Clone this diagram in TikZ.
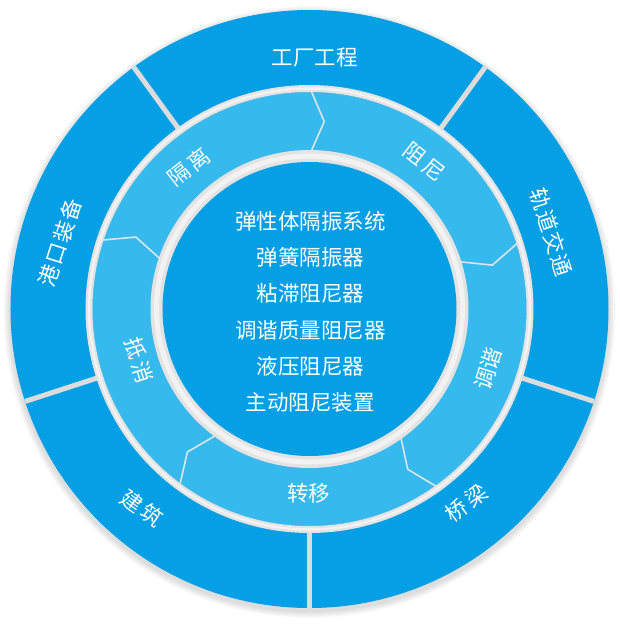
\documentclass[tikz,border=0pt]{standalone}
\usepackage{fontspec}
\newfontfamily\cjk{Noto Sans CJK SC}
\newfontfamily\cjkw{Noto Sans CJK SC}[LetterSpace=15]
\newfontfamily\cjkm{Noto Sans CJK SC}[LetterSpace=8]
\definecolor{darkb}{HTML}{049FE5}
\definecolor{lightb}{HTML}{36B9EC}
\definecolor{ringg}{HTML}{E3E3E3}
\definecolor{ringw}{HTML}{F2F2F2}
\definecolor{divg}{HTML}{DCDCDC}
\definecolor{sepg}{HTML}{DCE5EA}
\begin{document}
\begin{tikzpicture}[x=1pt,y=1pt,
  lab/.style={text=white,font=\cjk\fontsize{21.5}{22}\selectfont,inner sep=0pt},
  wlab/.style={text=white,font=\cjkw\fontsize{21.5}{22}\selectfont,inner sep=0pt},
  mlab/.style={text=white,font=\cjkm\fontsize{21.5}{22}\selectfont,inner sep=0pt},
  clab/.style={text=white,font=\cjk\fontsize{21.5}{22}\selectfont,inner sep=0pt},
  divider/.style={draw=divg,line width=5pt},
  chev/.style={draw=sepg,line width=1.6pt,line join=miter}]
\useasboundingbox (-309.5,-323) rectangle (310.5,309);
% soft shadow
\foreach \i in {1,...,7}{\fill[black,opacity=0.018] (0,-3) circle ({299+\i});}
% outer band
\fill[darkb] (0,0) circle (299);
\foreach \a in {-90,-18,54,126,198}{\draw[divider] (\a:214) -- (\a:299);}
% light band
\fill[lightb] (0,0) circle (217);
\foreach \a in {90,18,-54,-126,162}{\draw[chev] (\a:222) -- ({\a-4.5}:188) -- (\a:154);}
% gray rings
\fill[ringg,even odd rule] (0,0) circle (224) (0,0) circle (217);
\draw[ringw,line width=2.5pt] (0,0) circle (220.5);
\fill[ringg] (0,0) circle (159);
\draw[ringw,line width=5pt] (0,0) circle (153);
\fill[darkb] (0,0) circle (147);
% outer labels
\node[lab] (t1) at (5.5,252) {工厂工程};
\node[mlab,rotate=-72] (t2) at (241.5,77) {轨道交通};
\node[wlab,rotate=36] (t3) at (157,-194) {桥梁};
\node[wlab,rotate=-36] (t4) at (-167,-199) {建筑};
\node[mlab,rotate=72] (t5) at (-249.5,66) {港口装备};
% light band labels
\node[wlab,rotate=38] (m1) at (-120.5,142) {隔离};
\node[wlab,rotate=-38] (m2) at (114.5,147) {阻尼};
\node[lab,rotate=72] (m3) at (178.5,-60) {调谐};
\node[lab] (m4) at (-0.5,-184) {转移};
\node[wlab,rotate=-72] (m5) at (-170.5,-51) {抵消};
% center list
\node[clab] (c1) at (1,88) {弹性体隔振系统};
\node[clab] (c2) at (1,52) {弹簧隔振器};
\node[clab] (c3) at (1,16) {粘滞阻尼器};
\node[clab] (c4) at (1,-21) {调谐质量阻尼器};
\node[clab] (c5) at (1,-57) {液压阻尼器};
\node[clab] (c6) at (1,-93) {主动阻尼装置};
\end{tikzpicture}
\end{document}
